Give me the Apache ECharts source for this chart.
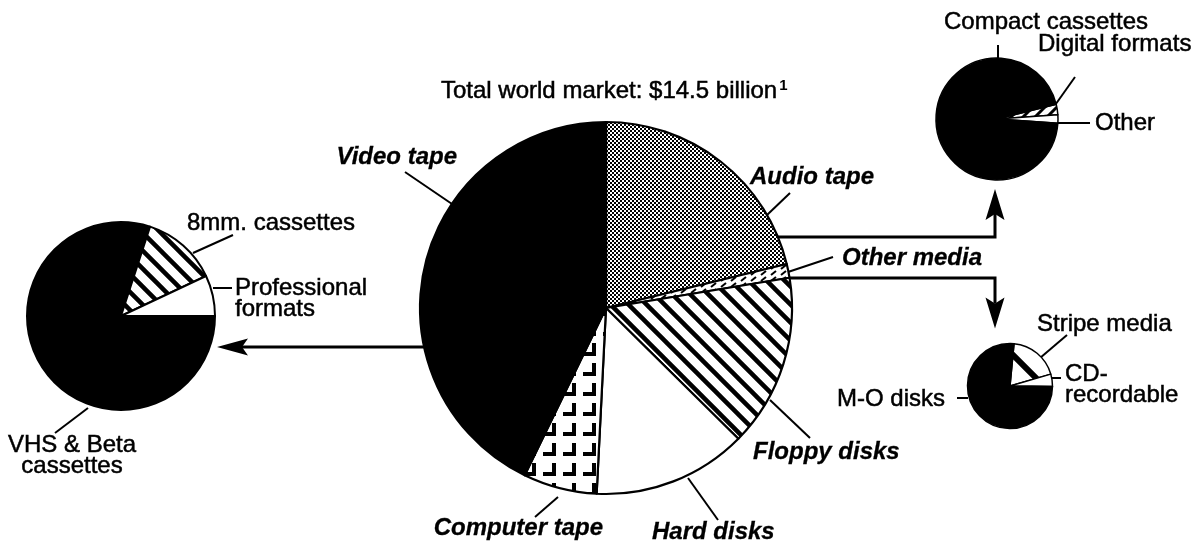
<!DOCTYPE html>
<html><head><meta charset="utf-8">
<script src="https://cdn.jsdelivr.net/npm/echarts@6/dist/echarts.min.js"></script>
<style>html,body{margin:0;padding:0;background:#fff}#c{width:1195px;height:541px}</style>
</head><body><div id="c"></div>
<script>
// ---------------- DATA ----------------
const titleText = 'Total world market: $14.5 billion';
const titleNote = '1';
// main pie (share of $14.5 billion, %), clockwise from 12 o'clock
const mainCategories = ['Audio tape', 'Other media', 'Floppy disks', 'Hard disks', 'Computer tape', 'Video tape'];
const mainValues = [21.2, 1.2, 15.0, 13.4, 6.4, 42.8];
// video tape breakdown, clockwise from 3 o'clock
const videoCategories = ['VHS & Beta\ncassettes', '8mm. cassettes', 'Professional\nformats'];
const videoValues = [80, 13, 7];
// audio tape breakdown
const audioCategories = ['Digital formats', 'Other', 'Compact cassettes'];
const audioValues = [2.8, 2.2, 95];
// other media breakdown
const otherCategories = ['Stripe media', 'CD-\nrecordable', 'M-O disks'];
const otherValues = [19, 4.7, 76.3];

// ---------------- STYLE / LAYOUT ----------------
const FONT = '"Liberation Sans", Arial, Helvetica, sans-serif';
const MAIN = {c: [606, 308], r: 186};
const VID = {c: [121, 316], r: 94};
const AUD = {c: [997, 119], r: 61};
const OTH = {c: [1010, 386], r: 42.5};

function tile(w, h, draw) {
  const c = document.createElement('canvas');
  c.width = w; c.height = h;
  const g = c.getContext('2d');
  g.fillStyle = '#fff'; g.fillRect(0, 0, w, h);
  g.fillStyle = '#000'; g.strokeStyle = '#000';
  draw(g);
  return {image: c, repeat: 'repeat'};
}
const patDots = tile(4, 4, g => { g.fillRect(0, 0, 2, 2); g.fillRect(2, 2, 2, 2); });
const patHatch = tile(18, 18, g => {
  g.lineWidth = 4.5; g.beginPath();
  for (let k = -1; k <= 1; k++) { g.moveTo(k * 18 - 4, -4); g.lineTo(k * 18 + 22, 22); }
  g.stroke();
});
const patBrick = tile(20, 20, g => { g.fillRect(12, 3, 4, 13); g.fillRect(3, 12, 13, 4); });
const patOther = tile(10, 6, g => { g.lineWidth = 2; g.beginPath(); g.moveTo(1, 5); g.lineTo(6, 1); g.stroke(); });
const patDigital = tile(12, 12, g => {
  g.lineWidth = 3; g.beginPath();
  for (let k = -1; k <= 1; k++) { g.moveTo(k * 12 - 3, 15); g.lineTo(k * 12 + 15, -3); }
  g.stroke();
});
const patStripe = tile(40, 40, g => {
  g.lineWidth = 6; g.beginPath();
  g.moveTo(18 - 6, -6); g.lineTo(46, 28);
  g.moveTo(-6, 16); g.lineTo(24, 46);
  g.stroke();
});

const mainFills = [patDots, patOther, patHatch, '#fff', patBrick, '#000'];
const videoFills = ['#000', patHatch, '#fff'];
const audioFills = [patDigital, '#fff', '#000'];
const otherFills = [patStripe, '#fff', '#000'];

// label placements (annotation positions)
const mainLabels = [
  {x: 750, y: 177, align: 'left', line: [[790, 193], [767, 215]]},
  {x: 842, y: 258, align: 'left', line: [[833, 257], [788, 272]]},
  {x: 753, y: 452, align: 'left', line: [[810, 438], [770, 400]]},
  {x: 652, y: 532, align: 'left', line: [[718, 520], [688, 478]]},
  {x: 603, y: 528, align: 'right', line: [[535, 517], [558, 497]]},
  {x: 457, y: 157, align: 'right', line: [[405, 172], [452, 204]]}
];
const videoLabels = [
  {x: 72, y: 456, align: 'center', line: [[55, 433], [88, 408]]},
  {x: 187, y: 223, align: 'left', line: [[233, 235], [193, 253]]},
  {x: 235, y: 299, align: 'left', line: [[213, 288], [232, 288]]}
];
const audioLabels = [
  {x: 1038, y: 44, align: 'left', line: [[1075, 77], [1053, 108]]},
  {x: 1095, y: 123, align: 'left', line: [[1090, 123], [1057, 123]]},
  {x: 1046, y: 22, align: 'center', line: [[998, 45], [998, 58]]}
];
const otherLabels = [
  {x: 1037, y: 324, align: 'left', line: [[1067, 335], [1040, 358]]},
  {x: 1065, y: 385, align: 'left', line: [[1052, 378], [1061, 378]]},
  {x: 837, y: 399, align: 'left', line: [[957, 398], [968, 398]]}
];

function pieSeries(cats, vals, fills, geo, startAngle, labels, bold, borderW) {
  return {
    type: 'pie', center: geo.c, radius: geo.r, startAngle: startAngle, clockwise: true,
    animation: false, silent: true, avoidLabelOverlap: false,
    emphasis: {disabled: true},
    data: cats.map((c, i) => ({name: c, value: vals[i], itemStyle: {color: fills[i]}})),
    itemStyle: {borderColor: '#000', borderWidth: borderW},
    label: {
      show: true, position: 'outside', formatter: '{b}', color: '#000',
      fontFamily: FONT, fontSize: 24, lineHeight: 21, overflow: 'none',
      fontWeight: bold ? 'bold' : 'normal', fontStyle: bold ? 'italic' : 'normal',
      textBorderColor: '#000', textBorderWidth: bold ? 0.3 : 0.5
    },
    labelLine: {show: true, length: 5, length2: 5, smooth: false, lineStyle: {color: '#000', width: 2}},
    labelLayout: function (p) {
      const L = labels[p.dataIndex];
      return {x: L.x, y: L.y, align: L.align, verticalAlign: 'middle', labelLinePoints: L.line};
    }
  };
}

// arrows connecting the main pie to the breakdown pies
function edgeX(geo, y, side) { const dy = y - geo.c[1]; return geo.c[0] + side * Math.sqrt(geo.r * geo.r - dy * dy); }
const yLeft = 347, yUp = 237, yDown = 278, xTurn = 995;
const leftStart = edgeX(MAIN, yLeft, -1);
const upStart = edgeX(MAIN, yUp, 1) - 2;
const downStart = edgeX(MAIN, yDown, 1) - 2;
const leftTip = VID.c[0] + VID.r + 2;
const upTip = AUD.c[1] + AUD.r + 9;
const downTip = OTH.c[1] - OTH.r - 15;
const AL = 31, AW = 9.5;
const lineStyle = {stroke: '#000', lineWidth: 3, fill: null};
const graphics = [
  {type: 'polyline', shape: {points: [[leftStart, yLeft], [leftTip + AL - 6, yLeft]]}, style: lineStyle},
  {type: 'polygon', shape: {points: [[leftTip, yLeft], [leftTip + AL, yLeft - AW + 1], [leftTip + AL - 6, yLeft], [leftTip + AL, yLeft + AW - 1]]}, style: {fill: '#000'}},
  {type: 'polyline', shape: {points: [[upStart, yUp], [xTurn, yUp], [xTurn, upTip + AL - 6]]}, style: lineStyle},
  {type: 'polygon', shape: {points: [[xTurn, upTip], [xTurn - AW, upTip + AL], [xTurn, upTip + AL - 6], [xTurn + AW, upTip + AL]]}, style: {fill: '#000'}},
  {type: 'polyline', shape: {points: [[downStart, yDown], [xTurn, yDown], [xTurn, downTip - AL + 6]]}, style: lineStyle},
  {type: 'polygon', shape: {points: [[xTurn, downTip], [xTurn - AW, downTip - AL], [xTurn, downTip - AL + 6], [xTurn + AW, downTip - AL]]}, style: {fill: '#000'}}
];

const chart = echarts.init(document.getElementById('c'), null, {renderer: 'canvas', width: 1195, height: 541});
chart.setOption({
  backgroundColor: '#fff',
  animation: false,
  title: {
    text: '{t|' + titleText + '}{s|' + titleNote + '}',
    left: 436, top: 73,
    textStyle: {
      fontWeight: 'normal',
      rich: {
        t: {fontFamily: FONT, fontSize: 24, fontWeight: 'normal', color: '#000', textBorderColor: '#000', textBorderWidth: 0.5, lineHeight: 26},
        s: {fontFamily: FONT, fontSize: 15, fontWeight: 'bold', color: '#000', verticalAlign: 'top', padding: [0, 0, 0, 2]}
      }
    }
  },
  graphic: graphics,
  series: [
    pieSeries(mainCategories, mainValues, mainFills, MAIN, 90, mainLabels, true, 2.2),
    pieSeries(videoCategories, videoValues, videoFills, VID, 0, videoLabels, false, 2),
    pieSeries(audioCategories, audioValues, audioFills, AUD, 90 - 76, audioLabels, false, 1.5),
    pieSeries(otherCategories, otherValues, otherFills, OTH, 90 - 5.4, otherLabels, false, 1.5)
  ]
});
</script></body></html>
